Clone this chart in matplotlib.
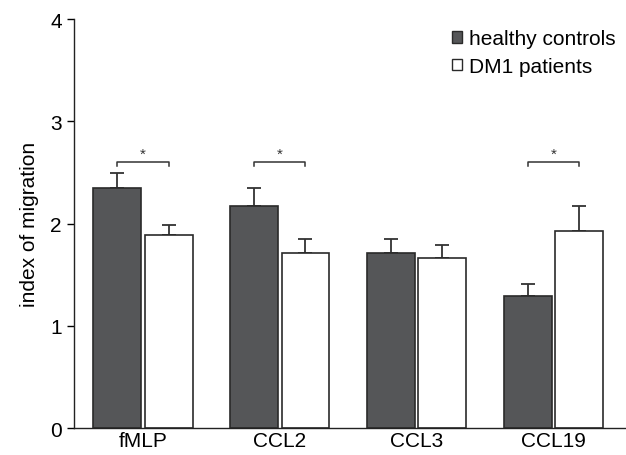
import numpy as np
import matplotlib
matplotlib.use('Agg')
import matplotlib.pyplot as plt

plt.rcParams['font.family'] = ['Liberation Sans', 'DejaVu Sans']

# données
categories = ['fMLP', 'CCL2', 'CCL3', 'CCL19']
controls = [2.35, 2.17, 1.71, 1.29]
controls_err = [0.14, 0.18, 0.14, 0.12]
patients = [1.89, 1.71, 1.66, 1.93]
patients_err = [0.10, 0.14, 0.13, 0.24]
significant = [True, True, False, True]

DARK = '#555658'
EDGE = '#2a2a2a'
FS = 15

fig = plt.figure(figsize=(6.26, 4.56), dpi=100)
ax = fig.add_axes([0.119, 0.059, 0.881, 0.897])

x = np.arange(len(categories))
w = 0.35
off = 0.188

ax.bar(x - off, controls, w, color=DARK, edgecolor=EDGE, linewidth=1.2,
       label='healthy controls', zorder=2)
ax.bar(x + off, patients, w, color='white', edgecolor=EDGE, linewidth=1.2,
       label='DM1 patients', zorder=2)

# barres d'erreur (côté supérieur seulement)
ax.errorbar(x - off, controls, yerr=[np.zeros(4), controls_err], fmt='none',
            ecolor='#333333', elinewidth=1.3, capsize=5, capthick=1.3, zorder=1)
ax.errorbar(x + off, patients, yerr=[np.zeros(4), patients_err], fmt='none',
            ecolor='#333333', elinewidth=1.3, capsize=5, capthick=1.3, zorder=1)

# crochets de significativité
for i, sig in enumerate(significant):
    if not sig:
        continue
    x0, x1 = i - off, i + off
    y = 2.60
    ax.plot([x0, x0, x1, x1], [y - 0.04, y, y, y - 0.04], color='#333333',
            lw=1.1, clip_on=False)
    ax.text(i, y + 0.01, '*', ha='center', va='bottom', fontsize=11,
            color='#333333')

ax.set_xlim(-0.5, 3.53)
ax.set_ylim(0, 4)
ax.set_yticks([0, 1, 2, 3, 4])
ax.set_xticks(x)
ax.set_xticklabels(categories)
ax.tick_params(axis='x', length=0, labelsize=FS, pad=2)
ax.tick_params(axis='y', length=5, width=1, labelsize=FS, direction='out', pad=4)
ax.set_ylabel('index of migration', fontsize=FS, labelpad=8)

for s in ['top', 'right']:
    ax.spines[s].set_visible(False)
for s in ['left', 'bottom']:
    ax.spines[s].set_linewidth(1.0)
    ax.spines[s].set_color('#222222')

leg = ax.legend(loc='upper right', bbox_to_anchor=(1.0, 1.0), frameon=False,
                fontsize=FS, handlelength=0.45, handleheight=0.45,
                handletextpad=0.35, labelspacing=0.42, borderaxespad=0.1)
for h in leg.legend_handles:
    h.set_linewidth(1.0)

fig.savefig('out.png', dpi=100)
